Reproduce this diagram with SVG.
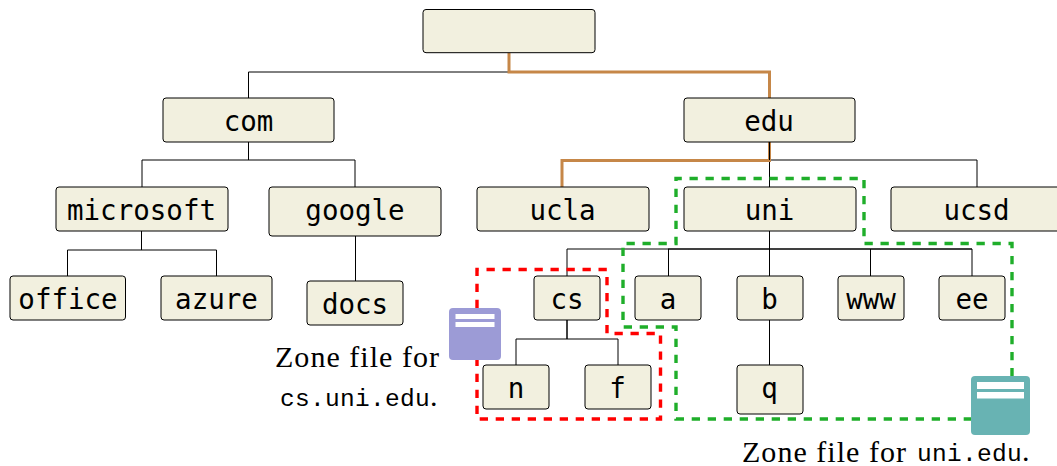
<svg xmlns="http://www.w3.org/2000/svg" width="1057" height="466" viewBox="0 0 1057 466">
<style>
.n{fill:#f2f0df;stroke:#000;stroke-width:1;}
.t{font-family:"DejaVu Sans Mono",monospace;font-size:27.5px;text-anchor:middle;fill:#000;}
.c{fill:none;stroke:#000;stroke-width:1;}
.o{fill:none;stroke:#c68748;stroke-width:3;}
.r{fill:none;stroke:#f00;stroke-width:3.400;stroke-dasharray:8.300 7.700;}
.g{fill:none;stroke:#1fae2a;stroke-width:3.400;stroke-dasharray:8.300 7.700;}
.l{font-family:"Liberation Serif",serif;font-size:30px;fill:#000;}
.m{font-family:"Liberation Mono",monospace;font-size:24.500px;letter-spacing:0.300px;}
.w{fill:#fff;}
</style>
<g id="connectors">
<path class="c" d="M248.500 98V72H509M248.500 142V160M142 187V160H355V187M141.500 231V250M67.500 276V250H216.500V276M355.500 236V281"/>
<path class="c" d="M770 160H977V187M769.500 142V187M769.500 231V249M567 276V249H972V276M668.500 249V276M769.500 249V276M870.500 249V276M769.500 320V365M567 320V339M516 365V339H618V365"/>
<path class="c" d="M668 249H972M567 320V339"/>
<path class="o" d="M509 52.500V72H769.500V98"/>
<path class="o" d="M769.500 142V160.500H562V187"/>
<path class="c" d="M769.500 142V160"/>
</g>
<g id="zones">
<path class="r" d="M477 308V269.500H607V333.500H660.500V419H477V360"/>
<path class="g" d="M972 419H676V327H623V243.500H676V178.500H864V243.500H1012V376"/>
</g>
<g id="root"><rect class="n" x="423" y="9.500" width="172" height="43.200" rx="3"/></g>
<g id="com"><rect class="n" x="163" y="98" width="171" height="44" rx="3"/><text class="t" x="248.500" y="131">com</text></g>
<g id="edu"><rect class="n" x="684" y="98" width="171" height="44" rx="3"/><text class="t" x="769" y="131">edu</text></g>
<g id="microsoft"><rect class="n" x="56" y="187" width="172" height="44" rx="3"/><text class="t" x="141.500" y="220">microsoft</text></g>
<g id="google"><rect class="n" x="269" y="187" width="172" height="49" rx="3"/><text class="t" x="355" y="220">google</text></g>
<g id="ucla"><rect class="n" x="477" y="187" width="172" height="44" rx="3"/><text class="t" x="562.500" y="220">ucla</text></g>
<g id="uni"><rect class="n" x="684" y="187" width="172" height="44" rx="3"/><text class="t" x="769.500" y="220">uni</text></g>
<g id="ucsd"><rect class="n" x="891" y="187" width="172" height="44" rx="3"/><text class="t" x="976.500" y="220">ucsd</text></g>
<g id="office"><rect class="n" x="10" y="276" width="115.500" height="44" rx="3"/><text class="t" x="68" y="309">office</text></g>
<g id="azure"><rect class="n" x="161" y="276" width="111" height="44" rx="3"/><text class="t" x="216.500" y="309">azure</text></g>
<g id="docs"><rect class="n" x="307" y="281" width="96" height="44" rx="3"/><text class="t" x="355" y="314">docs</text></g>
<g id="cs"><rect class="n" x="534" y="276" width="66" height="44" rx="3"/><text class="t" x="567" y="309">cs</text></g>
<g id="a"><rect class="n" x="635" y="276" width="66" height="44" rx="3"/><text class="t" x="668" y="309">a</text></g>
<g id="b"><rect class="n" x="737" y="276" width="66" height="44" rx="3"/><text class="t" x="769.500" y="309">b</text></g>
<g id="www"><rect class="n" x="838" y="276" width="66" height="44" rx="3"/><text class="t" x="871" y="309">www</text></g>
<g id="ee"><rect class="n" x="939" y="276" width="66" height="44" rx="3"/><text class="t" x="972" y="309">ee</text></g>
<g id="n"><rect class="n" x="483" y="365" width="66" height="44" rx="3"/><text class="t" x="516" y="398">n</text></g>
<g id="f"><rect class="n" x="585" y="365" width="66" height="44" rx="3"/><text class="t" x="617.500" y="398">f</text></g>
<g id="q"><rect class="n" x="737" y="365" width="66" height="49" rx="3"/><text class="t" x="769.500" y="398">q</text></g>
<g id="zone-cs">
<rect x="449" y="308" width="52" height="52" rx="4" fill="#9c9bd6"/>
<rect class="w" x="455.500" y="314" width="39" height="5"/>
<rect class="w" x="455.500" y="322" width="39" height="5"/>
<text class="l" x="275" y="367" textLength="164">Zone file for</text>
<text class="l" x="280" y="406"><tspan class="m">cs.uni.edu</tspan>.</text>
</g>
<g id="zone-uni">
<rect x="971" y="376" width="59" height="59" rx="4" fill="#68b3b3"/>
<rect class="w" x="977" y="382" width="47" height="7"/>
<rect class="w" x="977" y="392" width="47" height="6.500"/>
<text class="l" x="742" y="461.500" textLength="164">Zone file for</text>
<text class="l" x="917" y="461"><tspan class="m">uni.edu</tspan>.</text>
</g>
</svg>
